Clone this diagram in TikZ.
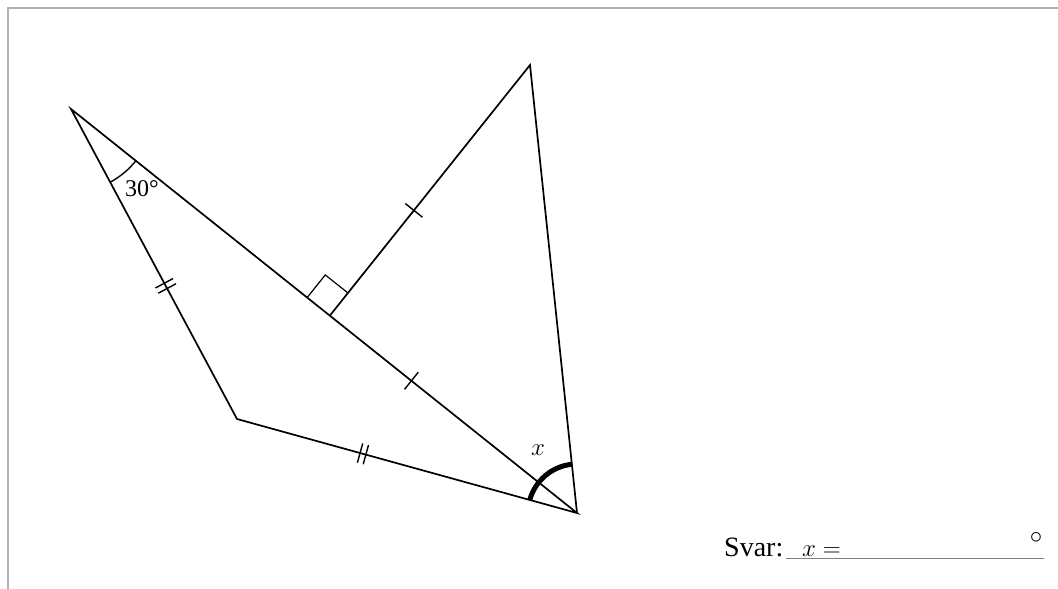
\documentclass[tikz,border=0pt]{standalone}
\usepackage{fontspec}
\setmainfont{Liberation Serif}
\usetikzlibrary{calc}
\begin{document}
\begin{tikzpicture}[x=1pt,y=-1pt,
  edge/.style={line width=1.7pt,black},
  tick/.style={line width=1.4pt,black},
  frame/.style={line width=2pt,color=black!30},
  lbl/.style={inner sep=0pt,font=\fontsize{24}{27}\selectfont}]
\useasboundingbox (0,0) rectangle (1058,589);
% frame
\draw[frame] (7.5,589) -- (7.5,7.5) -- (1058,7.5);
% vertices
\coordinate (A) at (71,109);
\coordinate (B) at (237,419);
\coordinate (C) at (577,513);
\coordinate (D) at (530,65);
\coordinate (F) at ($(A)!(D)!(C)$);
% right angle marker
\draw[line width=1.2pt] ($(F)!29pt!(A)$) -- ($($(F)!29pt!(A)$)+($(F)!29pt!(D)$)-(F)$) -- ($(F)!29pt!(D)$);
% sides
\draw[edge,line join=miter] (A) -- (B) -- (C) -- cycle;
\draw[edge,line join=miter] (F) -- (D) -- (C);
% angle arcs
\draw[line width=1.4pt] ($(A)+(38.61:83)$) arc (38.61:61.83:83);
\draw[line width=5pt] ($(C)+(195.45:49)$) arc (195.45:264.0:49);
% single ticks
\coordinate (t1) at ($(D)!0.58!(F)$);
\draw[tick] ($(t1)!11pt!90:(D)$) -- ($(t1)!11pt!-90:(D)$);
\coordinate (t2) at ($(F)!0.33!(C)$);
\draw[tick] ($(t2)!11pt!90:(C)$) -- ($(t2)!11pt!-90:(C)$);
% double ticks
\coordinate (d1a) at ($(A)!0.562!(B)$);
\coordinate (d1b) at ($(A)!0.579!(B)$);
\draw[tick] ($(d1a)!10pt!90:(B)$) -- ($(d1a)!10pt!-90:(B)$);
\draw[tick] ($(d1b)!10pt!90:(B)$) -- ($(d1b)!10pt!-90:(B)$);
\coordinate (d2a) at ($(B)!0.362!(C)$);
\coordinate (d2b) at ($(B)!0.379!(C)$);
\draw[tick] ($(d2a)!10pt!90:(C)$) -- ($(d2a)!10pt!-90:(C)$);
\draw[tick] ($(d2b)!10pt!90:(C)$) -- ($(d2b)!10pt!-90:(C)$);
% labels
\node[lbl] (a30) at (142,189) {30°};
\node[lbl] (ax) at (538,450) {$x$};
% answer
\node[inner sep=0pt,anchor=base west,font=\fontsize{28}{32}\selectfont] (svar) at (724,556) {Svar:};
\draw[line width=1pt,color=black!50] (786,558) -- (1044,558);
\node[inner sep=0pt,anchor=base west,font=\fontsize{28}{32}\selectfont] (eq) at (802,556) {$x =$};
\node[inner sep=0pt,font=\fontsize{28}{32}\selectfont] (deg) at (1036,538) {$\circ$};
\end{tikzpicture}
\end{document}
